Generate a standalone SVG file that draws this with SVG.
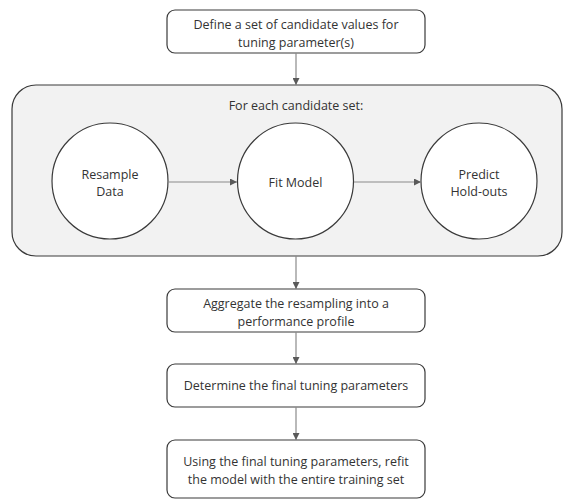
<svg xmlns="http://www.w3.org/2000/svg" width="564" height="500" viewBox="0 0 564 500">
<style>
.box{fill:#ffffff;stroke:#3a3a3a;stroke-width:1.2}
.cont{fill:#f2f2f2;stroke:#3a3a3a;stroke-width:1.2}
.circ{fill:#ffffff;stroke:#3a3a3a;stroke-width:1.2}
.t{font-family:"Open Sans","Liberation Sans",sans-serif;font-size:12.5px;fill:#333333;text-anchor:middle}
.edge{stroke:#8a8a8a;stroke-width:1.2;fill:none;marker-end:url(#ah)}
</style>
<defs>
<marker id="ah" viewBox="0 0 10 10" refX="10" refY="5" markerWidth="7" markerHeight="7" markerUnits="userSpaceOnUse" orient="auto">
<path d="M0,0 L10,5 L0,10 z" fill="#5a5a5a"/>
</marker>
</defs>
<rect width="564" height="500" fill="#ffffff"/>
<g id="define">
<rect class="box" x="167" y="10" width="258" height="43" rx="8"/>
<text class="t" x="296" y="29">Define a set of candidate values for</text>
<text class="t" x="296" y="47">tuning parameter(s)</text>
</g>
<g id="loop">
<rect class="cont" x="12" y="85" width="550" height="171" rx="24"/>
<text class="t" x="296" y="110">For each candidate set:</text>
</g>
<g id="resample">
<circle class="circ" cx="110" cy="181" r="58"/>
<text class="t" x="110" y="179">Resample</text>
<text class="t" x="110" y="196">Data</text>
</g>
<g id="fit">
<circle class="circ" cx="295.5" cy="181" r="58"/>
<text class="t" x="295.5" y="187">Fit Model</text>
</g>
<g id="predict">
<circle class="circ" cx="479" cy="181" r="58"/>
<text class="t" x="479" y="179">Predict</text>
<text class="t" x="479" y="196">Hold-outs</text>
</g>
<g id="aggregate">
<rect class="box" x="167" y="289" width="258" height="43" rx="8"/>
<text class="t" x="296" y="308">Aggregate the resampling into a</text>
<text class="t" x="296" y="326">performance profile</text>
</g>
<g id="determine">
<rect class="box" x="167" y="364" width="258" height="43" rx="8"/>
<text class="t" x="296" y="390">Determine the final tuning parameters</text>
</g>
<g id="refit">
<rect class="box" x="167" y="440" width="258" height="58" rx="8"/>
<text class="t" x="296" y="466">Using the final tuning parameters, refit</text>
<text class="t" x="296" y="484">the model with the entire training set</text>
</g>
<g id="connectors">
<line class="edge" x1="296" y1="53" x2="296" y2="85"/>
<line class="edge" x1="168" y1="182" x2="237" y2="182"/>
<line class="edge" x1="354" y1="182" x2="421" y2="182"/>
<line class="edge" x1="296" y1="256" x2="296" y2="289"/>
<line class="edge" x1="296" y1="332" x2="296" y2="364"/>
<line class="edge" x1="296" y1="407" x2="296" y2="440"/>
</g>
</svg>
